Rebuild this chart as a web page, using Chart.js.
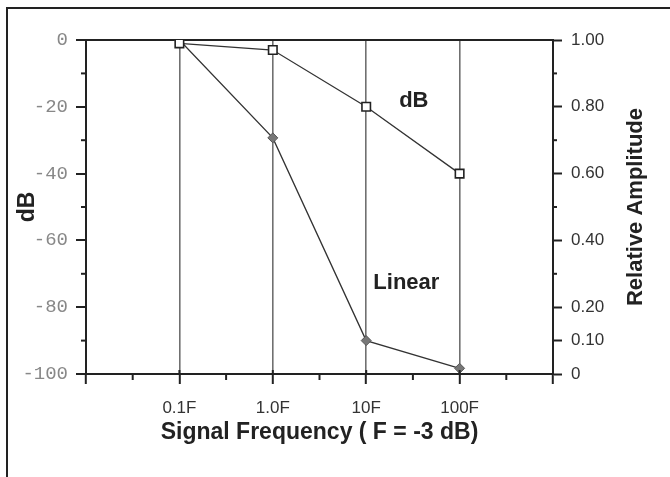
<!DOCTYPE html>
<html>
<head>
<meta charset="utf-8">
<script src="https://cdn.jsdelivr.net/npm/chart.js@4/dist/chart.umd.min.js"></script>
<style>
  html, body { margin: 0; padding: 0; background: #fff; overflow: hidden; }
  #wrap { position: relative; width: 670px; height: 477px; }
  #frame { position: absolute; left: 6px; top: 7px; width: 700px; height: 600px;
           border-left: 2.5px solid #222; border-top: 2.5px solid #222; pointer-events: none; }
</style>
</head>
<body>
<div id="wrap">
  <canvas id="myChart" width="670" height="477"></canvas>
  <div id="frame"></div>
</div>
<script>
// x positions: 1..4 are the four frequencies, 0 and 5 are the axis ends
const freqLabels = ['0.1F', '1.0F', '10F', '100F'];
const dbValues = [-1, -3, -20, -40];
const linearValues = [1.0, 0.707, 0.1, 0.017];

const dbTicks = [0, -20, -40, -60, -80, -100];
const dbMinor = [-10, -30, -50, -70, -90];
const ampTicks = [0, 0.1, 0.2, 0.4, 0.6, 0.8, 1.0];
const ampMinor = [0.3, 0.5, 0.7, 0.9];
const freqMinor = [0.5, 1.5, 2.5, 3.5, 4.5];

const SANS = '"Liberation Sans", Arial, sans-serif';
const INK = '#222';

const extras = {
  id: 'extras',
  afterDraw(chart) {
    const { ctx, chartArea, scales } = chart;
    ctx.save();
    ctx.strokeStyle = INK;
    ctx.lineWidth = 2;
    function seg(x1, y1, x2, y2) {
      ctx.beginPath(); ctx.moveTo(x1, y1); ctx.lineTo(x2, y2); ctx.stroke();
    }
    dbMinor.forEach(v => {
      const y = scales.y.getPixelForValue(v);
      seg(chartArea.left - 5, y, chartArea.left, y);
    });
    ampMinor.forEach(v => {
      const y = scales.y1.getPixelForValue(v);
      seg(chartArea.right, y, chartArea.right + 4, y);
    });
    freqMinor.forEach(v => {
      const x = scales.x.getPixelForValue(v);
      seg(x, chartArea.bottom, x, chartArea.bottom + 6);
    });
    // major x ticks poke a little above the axis line
    [0, 1, 2, 3, 4, 5].forEach(v => {
      const x = scales.x.getPixelForValue(v);
      seg(x, chartArea.bottom - 4, x, chartArea.bottom);
    });

    ctx.fillStyle = INK;
    ctx.textAlign = 'center';
    ctx.textBaseline = 'middle';
    ctx.font = 'bold 22px ' + SANS;
    ctx.fillText('dB', scales.x.getPixelForValue(3.51), scales.y.getPixelForValue(-18.3));
    ctx.fillText('Linear', scales.x.getPixelForValue(3.43), scales.y.getPixelForValue(-72.8));

    // right axis title reads bottom-to-top
    ctx.translate(chartArea.right + 83, (chartArea.top + chartArea.bottom) / 2);
    ctx.rotate(-Math.PI / 2);
    ctx.fillText('Relative Amplitude', 0, 0);
    ctx.restore();
  }
};

const ctx = document.getElementById('myChart').getContext('2d');
const myChart = new Chart(ctx, {
  type: 'line',
  data: {
    datasets: [
      {
        label: 'dB',
        data: dbValues.map((v, i) => ({ x: i + 1, y: v })),
        yAxisID: 'y',
        borderColor: '#333',
        borderWidth: 1.3,
        pointStyle: 'rect',
        pointRadius: 6,
        pointBackgroundColor: '#fff',
        pointBorderColor: INK,
        pointBorderWidth: 1.6,
        order: 1
      },
      {
        label: 'Linear',
        data: linearValues.map((v, i) => ({ x: i + 1, y: v })),
        yAxisID: 'y1',
        borderColor: '#333',
        borderWidth: 1.3,
        pointStyle: 'rectRot',
        pointRadius: 5,
        pointBackgroundColor: '#777',
        pointBorderColor: '#555',
        pointBorderWidth: 1,
        order: 2
      }
    ]
  },
  options: {
    responsive: false,
    animation: false,
    layout: { padding: { top: 40, left: 0, right: 0, bottom: 0 } },
    plugins: { legend: { display: false }, tooltip: { enabled: false } },
    scales: {
      x: {
        type: 'linear',
        min: 0,
        max: 5,
        afterFit: (scale) => { scale.height = 103; },
        afterBuildTicks: (scale) => { scale.ticks = [0, 1, 2, 3, 4, 5].map(v => ({ value: v })); },
        ticks: {
          autoSkip: false,
          maxRotation: 0,
          padding: 14,
          color: '#333',
          font: { family: SANS, size: 17 },
          callback: (v) => freqLabels[v - 1] || ''
        },
        grid: {
          color: (c) => (c.tick && c.tick.value > 0 && c.tick.value < 5) ? '#707070' : 'rgba(0,0,0,0)',
          lineWidth: 1.6,
          tickColor: INK,
          tickWidth: 2,
          tickLength: 10
        },
        border: { display: true, color: INK, width: 2 },
        title: {
          display: true,
          text: 'Signal Frequency ( F = -3 dB)',
          color: INK,
          font: { family: SANS, size: 23, weight: 'bold' },
          padding: { top: 0, bottom: 31 }
        }
      },
      y: {
        position: 'left',
        min: -100,
        max: 0,
        afterFit: (scale) => { scale.width = 86; },
        afterBuildTicks: (scale) => { scale.ticks = dbTicks.map(v => ({ value: v })); },
        ticks: {
          padding: 8,
          color: '#888',
          font: { family: '"Liberation Mono", "Courier New", monospace', size: 19 },
          callback: (v) => String(v)
        },
        grid: {
          color: (c) => (c.tick && c.tick.value === 0) ? INK : 'rgba(0,0,0,0)',
          lineWidth: 2,
          tickColor: INK,
          tickWidth: 2,
          tickLength: 10
        },
        border: { display: true, color: INK, width: 2 },
        title: {
          display: true,
          text: 'dB',
          color: INK,
          font: { family: SANS, size: 23, weight: 'bold' },
          padding: { top: 14, bottom: 0 }
        }
      },
      y1: {
        position: 'right',
        min: 0,
        max: 1,
        afterFit: (scale) => { scale.width = 117; },
        afterBuildTicks: (scale) => { scale.ticks = ampTicks.map(v => ({ value: v })); },
        ticks: {
          padding: 9,
          color: '#333',
          font: { family: SANS, size: 17 },
          callback: (v) => v === 0 ? '0' : v.toFixed(2)
        },
        grid: {
          drawOnChartArea: false,
          tickColor: INK,
          tickWidth: 2,
          tickLength: 9
        },
        border: { display: true, color: INK, width: 2 }
      }
    }
  },
  plugins: [extras]
});
</script>
</body>
</html>
